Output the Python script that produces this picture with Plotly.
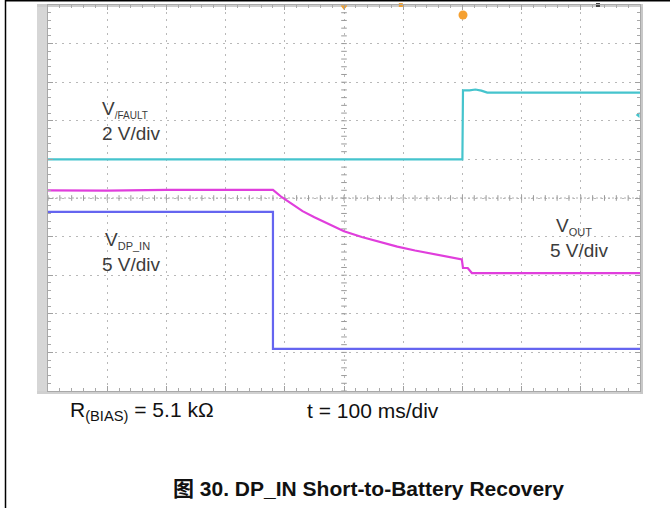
import plotly.graph_objects as go

# ---------------- data (time in ms, values in volts) ----------------
t_fault = [0, 700, 701, 712, 722, 732, 742, 1000]
v_fault = [0.0, 0.0, 3.58, 3.58, 3.62, 3.56, 3.46, 3.46]

t_out = [0, 100, 200, 300, 380, 395, 410, 430, 450, 475, 500, 530, 560, 590, 620, 650, 680, 699,
         701, 709, 716, 1000]
v_out = [16.0, 15.95, 16.05, 16.0, 16.04, 15.1, 14.3, 13.3, 12.5, 11.6, 10.7, 9.95, 9.3, 8.7, 8.2,
         7.75, 7.35, 7.05, 5.93, 5.93, 5.28, 5.28]

t_dp = [0, 380, 380, 1000]
v_dp = [18.2, 18.2, 0.45, 0.45]

# channel scale (V/div) and ground offset (div from bottom)
scale_fault, offset_fault = 2.0, 6.0
scale_out, offset_out = 5.0, 2.0
scale_dp, offset_dp = 5.0, 1.0

FONT = "Arial, Liberation Sans, Noto Sans CJK SC, sans-serif"
C_CYAN = "#45c4cd"
C_MAG = "#e03edc"
C_BLUE = "#6565f0"


def to_div(vals, scale, offset):
    return [offset + v / scale for v in vals]


fig = go.Figure()

# center crosshair tick marks
fig.add_trace(go.Scatter(x=[k * 20 for k in range(51)], y=[5] * 51, mode="markers",
                         marker=dict(symbol="line-ns", size=4, line=dict(width=1, color="#9a9a9a")),
                         hoverinfo="skip", showlegend=False))
fig.add_trace(go.Scatter(x=[500] * 51, y=[k * 0.2 for k in range(51)], mode="markers",
                         marker=dict(symbol="line-ew", size=4, line=dict(width=1, color="#9a9a9a")),
                         hoverinfo="skip", showlegend=False))

fig.add_trace(go.Scatter(x=t_fault, y=to_div(v_fault, scale_fault, offset_fault), mode="lines",
                         line=dict(color=C_CYAN, width=2.2), showlegend=False))
fig.add_trace(go.Scatter(x=t_out, y=to_div(v_out, scale_out, offset_out), mode="lines",
                         line=dict(color=C_MAG, width=2.2), showlegend=False))
fig.add_trace(go.Scatter(x=t_dp, y=to_div(v_dp, scale_dp, offset_dp), mode="lines",
                         line=dict(color=C_BLUE, width=2.2), showlegend=False))

# channel ground markers on left strip
fig.add_trace(go.Scatter(x=[-13, -13, -13], y=[offset_fault, offset_out, offset_dp], mode="markers",
                         marker=dict(symbol="triangle-right", size=8, color=[C_CYAN, C_MAG, C_BLUE]),
                         cliponaxis=False, hoverinfo="skip", showlegend=False))
# trigger level marker on right
fig.add_trace(go.Scatter(x=[997], y=[7.15], mode="markers",
                         marker=dict(symbol="triangle-left", size=5, color=C_CYAN),
                         cliponaxis=False, hoverinfo="skip", showlegend=False))
# top markers
fig.add_trace(go.Scatter(x=[500], y=[9.95], mode="markers",
                         marker=dict(symbol="triangle-down", size=6, color="#f0a030"),
                         cliponaxis=False, hoverinfo="skip", showlegend=False))
fig.add_trace(go.Scatter(x=[596], y=[10.0], mode="markers",
                         marker=dict(symbol="square", size=4, color="#f0a030"),
                         cliponaxis=False, hoverinfo="skip", showlegend=False))
fig.add_trace(go.Scatter(x=[929], y=[10.0], mode="markers",
                         marker=dict(symbol="square", size=4, color="#404040"),
                         cliponaxis=False, hoverinfo="skip", showlegend=False))
fig.add_trace(go.Scatter(x=[701], y=[9.74], mode="markers",
                         marker=dict(symbol="circle", size=9, color="#f5a030"),
                         cliponaxis=False, hoverinfo="skip", showlegend=False))

grid = dict(showgrid=True, gridcolor="#b8b8b8", gridwidth=1, griddash="2px,5px",
            zeroline=False, showticklabels=False, ticks="inside", ticklen=5,
            tickcolor="#a0a0a0", showline=True, linecolor="#a8a8a8", linewidth=1,
            mirror="ticks", fixedrange=True)

fig.update_xaxes(range=[0, 1000], dtick=100, tick0=0,
                 minor=dict(dtick=20, ticks="inside", ticklen=3, tickcolor="#a8a8a8", showgrid=False),
                 **grid)
fig.update_yaxes(range=[0, 10], dtick=1, tick0=0,
                 minor=dict(dtick=0.2, ticks="inside", ticklen=3, tickcolor="#a8a8a8", showgrid=False),
                 **grid)

def px_x(px):
    return (px - 48) / 592.0

def px_y(py):
    return (391 - py) / 386.0

shapes = [
    # scope frame strips
    dict(type="rect", xref="paper", yref="paper", x0=px_x(37), x1=px_x(47.5), y0=px_y(394), y1=px_y(4),
         fillcolor="#d6d6d6", line=dict(width=0), layer="below"),
    dict(type="rect", xref="paper", yref="paper", x0=px_x(37), x1=px_x(643), y0=px_y(394), y1=px_y(391),
         fillcolor="#d0d0d0", line=dict(width=0), layer="below"),
    dict(type="rect", xref="paper", yref="paper", x0=px_x(640), x1=px_x(643), y0=px_y(394), y1=px_y(4),
         fillcolor="#c8c8c8", line=dict(width=0), layer="below"),
    dict(type="rect", xref="paper", yref="paper", x0=px_x(37), x1=px_x(643), y0=px_y(7), y1=px_y(4),
         fillcolor="#cccccc", line=dict(width=0), layer="below"),
    # center horizontal dashed line
    dict(type="line", xref="x", yref="y", x0=0, x1=1000, y0=5, y1=5,
         line=dict(color="#b0b0b0", width=1, dash="2px,2px"), layer="below"),
    # outer document frame
    dict(type="line", xref="paper", yref="paper", x0=px_x(5.5), x1=px_x(5.5), y0=px_y(510), y1=px_y(0),
         line=dict(color="#000000", width=1.5)),
    dict(type="line", xref="paper", yref="paper", x0=px_x(5), x1=px_x(672), y0=px_y(0.8), y1=px_y(0.8),
         line=dict(color="#000000", width=1.5)),
]

LBL = dict(family=FONT, size=19, color="#3c3c3c")
BOT = dict(family=FONT, size=21, color="#111111")


def pair(x_name, x_div, y_split, name_html):
    """channel name above a split line, V/div text below it"""
    return [
        dict(x=x_name, y=y_split, xref="x", yref="y", text=name_html, borderpad=0,
             showarrow=False, xanchor="left", yanchor="bottom", font=LBL),
        dict(x=x_div[0], y=y_split, xref="x", yref="y", text=x_div[1], borderpad=0,
             showarrow=False, xanchor="left", yanchor="top", font=LBL),
    ]


annotations = (
    pair(89, (89, "2 V/div"), px_y(121.5) * 10,
         "V<sub><span style='font-size:10px'>/FAULT</span></sub>")
    + pair(95, (89, "5 V/div"), px_y(252.5) * 10,
           "V<sub><span style='font-size:11px'>DP_IN</span></sub>")
    + pair(857, (846, "5 V/div"), px_y(239) * 10,
           "V<sub><span style='font-size:11px'>OUT</span></sub>")
    + [
        dict(x=px_x(68), y=px_y(411), xref="paper", yref="paper", text="R<sub>(BIAS)</sub> = 5.1 kΩ",
             showarrow=False, xanchor="left", yanchor="middle", font=BOT),
        dict(x=px_x(305), y=px_y(410), xref="paper", yref="paper", text="t = 100 ms/div",
             showarrow=False, xanchor="left", yanchor="middle", font=BOT),
        dict(x=px_x(368), y=px_y(488), xref="paper", yref="paper",
             text="<b>图 30. DP_IN Short-to-Battery Recovery</b>",
             showarrow=False, xanchor="center", yanchor="middle",
             font=dict(family=FONT, size=21, color="#111111")),
    ]
)

fig.update_layout(width=670, height=508, autosize=False,
                  margin=dict(l=48, r=30, t=5, b=117, pad=0),
                  paper_bgcolor="white", plot_bgcolor="white",
                  shapes=shapes, annotations=annotations, showlegend=False)

fig.write_html("out.html", config={"displayModeBar": False},
               post_script="document.body.style.margin='0px';document.body.style.padding='0px';"
                           "document.body.style.overflow='hidden';")
